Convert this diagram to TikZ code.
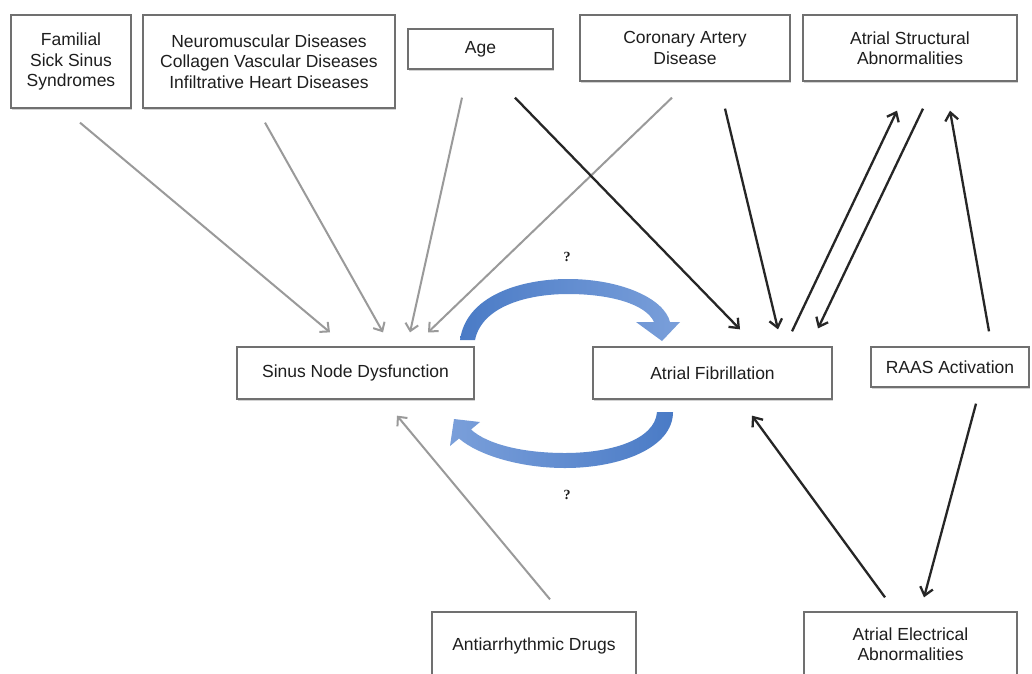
\documentclass[tikz,border=0pt]{standalone}
\usepackage{fontspec}
\setmainfont{Liberation Sans}
\newfontfamily\qfont{Liberation Serif}
\usetikzlibrary{arrows.meta,shadows,calc}
\definecolor{boxline}{HTML}{707070}
\definecolor{grayarrow}{HTML}{9A9A9A}
\definecolor{bluedark}{HTML}{4A7BC6}
\definecolor{bluelight}{HTML}{CCDCF4}
\definecolor{bluemid}{HTML}{7A9FDA}
\definecolor{txt}{HTML}{1E1E1E}
\begin{document}
\begin{tikzpicture}[x=1pt,y=-1pt,
  box/.style={draw=boxline, line width=1.3pt, fill=white, inner sep=0pt, align=center, text=txt,
    font=\fontsize{17.5}{20.5}\selectfont,
    drop shadow={shadow xshift=1pt, shadow yshift=-1.5pt, opacity=0.35, fill=gray}},
  garrow/.style={draw=grayarrow, line width=2pt, -{Straight Barb[length=7pt,width=13pt]}},
  barrow/.style={draw=black!85, line width=2.3pt, -{Straight Barb[length=8pt,width=13pt]}},
  qmark/.style={font=\qfont\bfseries\fontsize{14}{16}\selectfont, text=txt}]
\useasboundingbox (0,0) rectangle (1032,673);
\clip (0,0) rectangle (1032,673);
\fill[white] (0,0) rectangle (1032,673);

% nodes
\node[box, minimum width=120pt, minimum height=93pt] (fam) at (71,61.5) {Familial\\Sick Sinus\\Syndromes};
\node[box, minimum width=252pt, minimum height=93pt] (neuro) at (269,61.5) {Neuromuscular Diseases\\Collagen Vascular Diseases\\Infiltrative Heart Diseases};
\node[box, minimum width=145pt, minimum height=40pt] (age) at (480.5,49) {Age};
\node[box, minimum width=210pt, minimum height=66pt] (cad) at (685,48) {Coronary Artery\\Disease};
\node[box, minimum width=214pt, minimum height=66pt] (asa) at (910,48) {Atrial Structural\\Abnormalities};
\node[box, minimum width=237pt, minimum height=52pt] (snd) at (355.5,373) {Sinus Node Dysfunction};
\node[box, minimum width=239pt, minimum height=52pt] (af) at (712.5,373) {Atrial Fibrillation};
\node[box, minimum width=158pt, minimum height=40pt] (raas) at (950,367) {RAAS Activation};
\node[box, minimum width=204pt, minimum height=68pt] (aad) at (534,646) {Antiarrhythmic Drugs};
\node[box, minimum width=213pt, minimum height=64pt] (aea) at (910.5,644) {Atrial Electrical\\Abnormalities};

% gray arrows into sinus node dysfunction
\draw[garrow] ([shift={(9,14)}]fam.south) -- ([shift={(-25.5,-14)}]snd.north);
\draw[garrow] ([shift={(-4,14)}]neuro.south) -- ([shift={(27.5,-14)}]snd.north);
\draw[garrow] ([shift={(-18.5,28)}]age.south) -- ([shift={(54.5,-14)}]snd.north);
\draw[garrow] ([shift={(-13,16)}]cad.south) -- ([shift={(72.5,-14)}]snd.north);
\draw[garrow] ([shift={(16,-12)}]aad.north) -- ([shift={(41.5,16)}]snd.south);

% black arrows
\draw[barrow] ([shift={(34.5,28)}]age.south) -- ([shift={(27.5,-17)}]af.north);
\draw[barrow] ([shift={(40,27)}]cad.south) -- ([shift={(65.5,-17)}]af.north);
\draw[barrow] ([shift={(79.5,-15)}]af.north) -- ([shift={(-13,29)}]asa.south);
\draw[barrow] ([shift={(13,27)}]asa.south) -- ([shift={(105.5,-18)}]af.north);
\draw[barrow] ([shift={(39,-15)}]raas.north) -- ([shift={(40,29)}]asa.south);
\draw[barrow] ([shift={(26,16)}]raas.south) -- ([shift={(13.5,-14)}]aea.north);
\draw[barrow] ([shift={(-25.5,-14)}]aea.north) -- ([shift={(39.5,16)}]af.south);

% blue curved arrows
\shade[left color=bluedark, middle color=bluelight, right color=bluemid]
  (460,340) .. controls (466,296) and (520,279) .. (568,279)
  .. controls (620,279) and (664,298) .. (670,322)
  -- (680,322) -- (662,341) -- (636,322) -- (654,322)
  .. controls (646,304) and (610,294) .. (568,294)
  .. controls (528,294) and (482,306) .. (475,340) -- cycle;
\shade[left color=bluemid, middle color=bluelight, right color=bluedark]
  (673,412) .. controls (673,448) and (620,468) .. (565,468)
  .. controls (520,468) and (478,455) .. (459,438.5)
  -- (450,446) -- (454,419) -- (480,422) -- (471,429.5)
  .. controls (488,445) and (525,453) .. (565,453)
  .. controls (610,453) and (655,440) .. (657,412) -- cycle;

\node[qmark] (q1) at (567,257) {?};
\node[qmark] (q2) at (567,495) {?};
\end{tikzpicture}
\end{document}
